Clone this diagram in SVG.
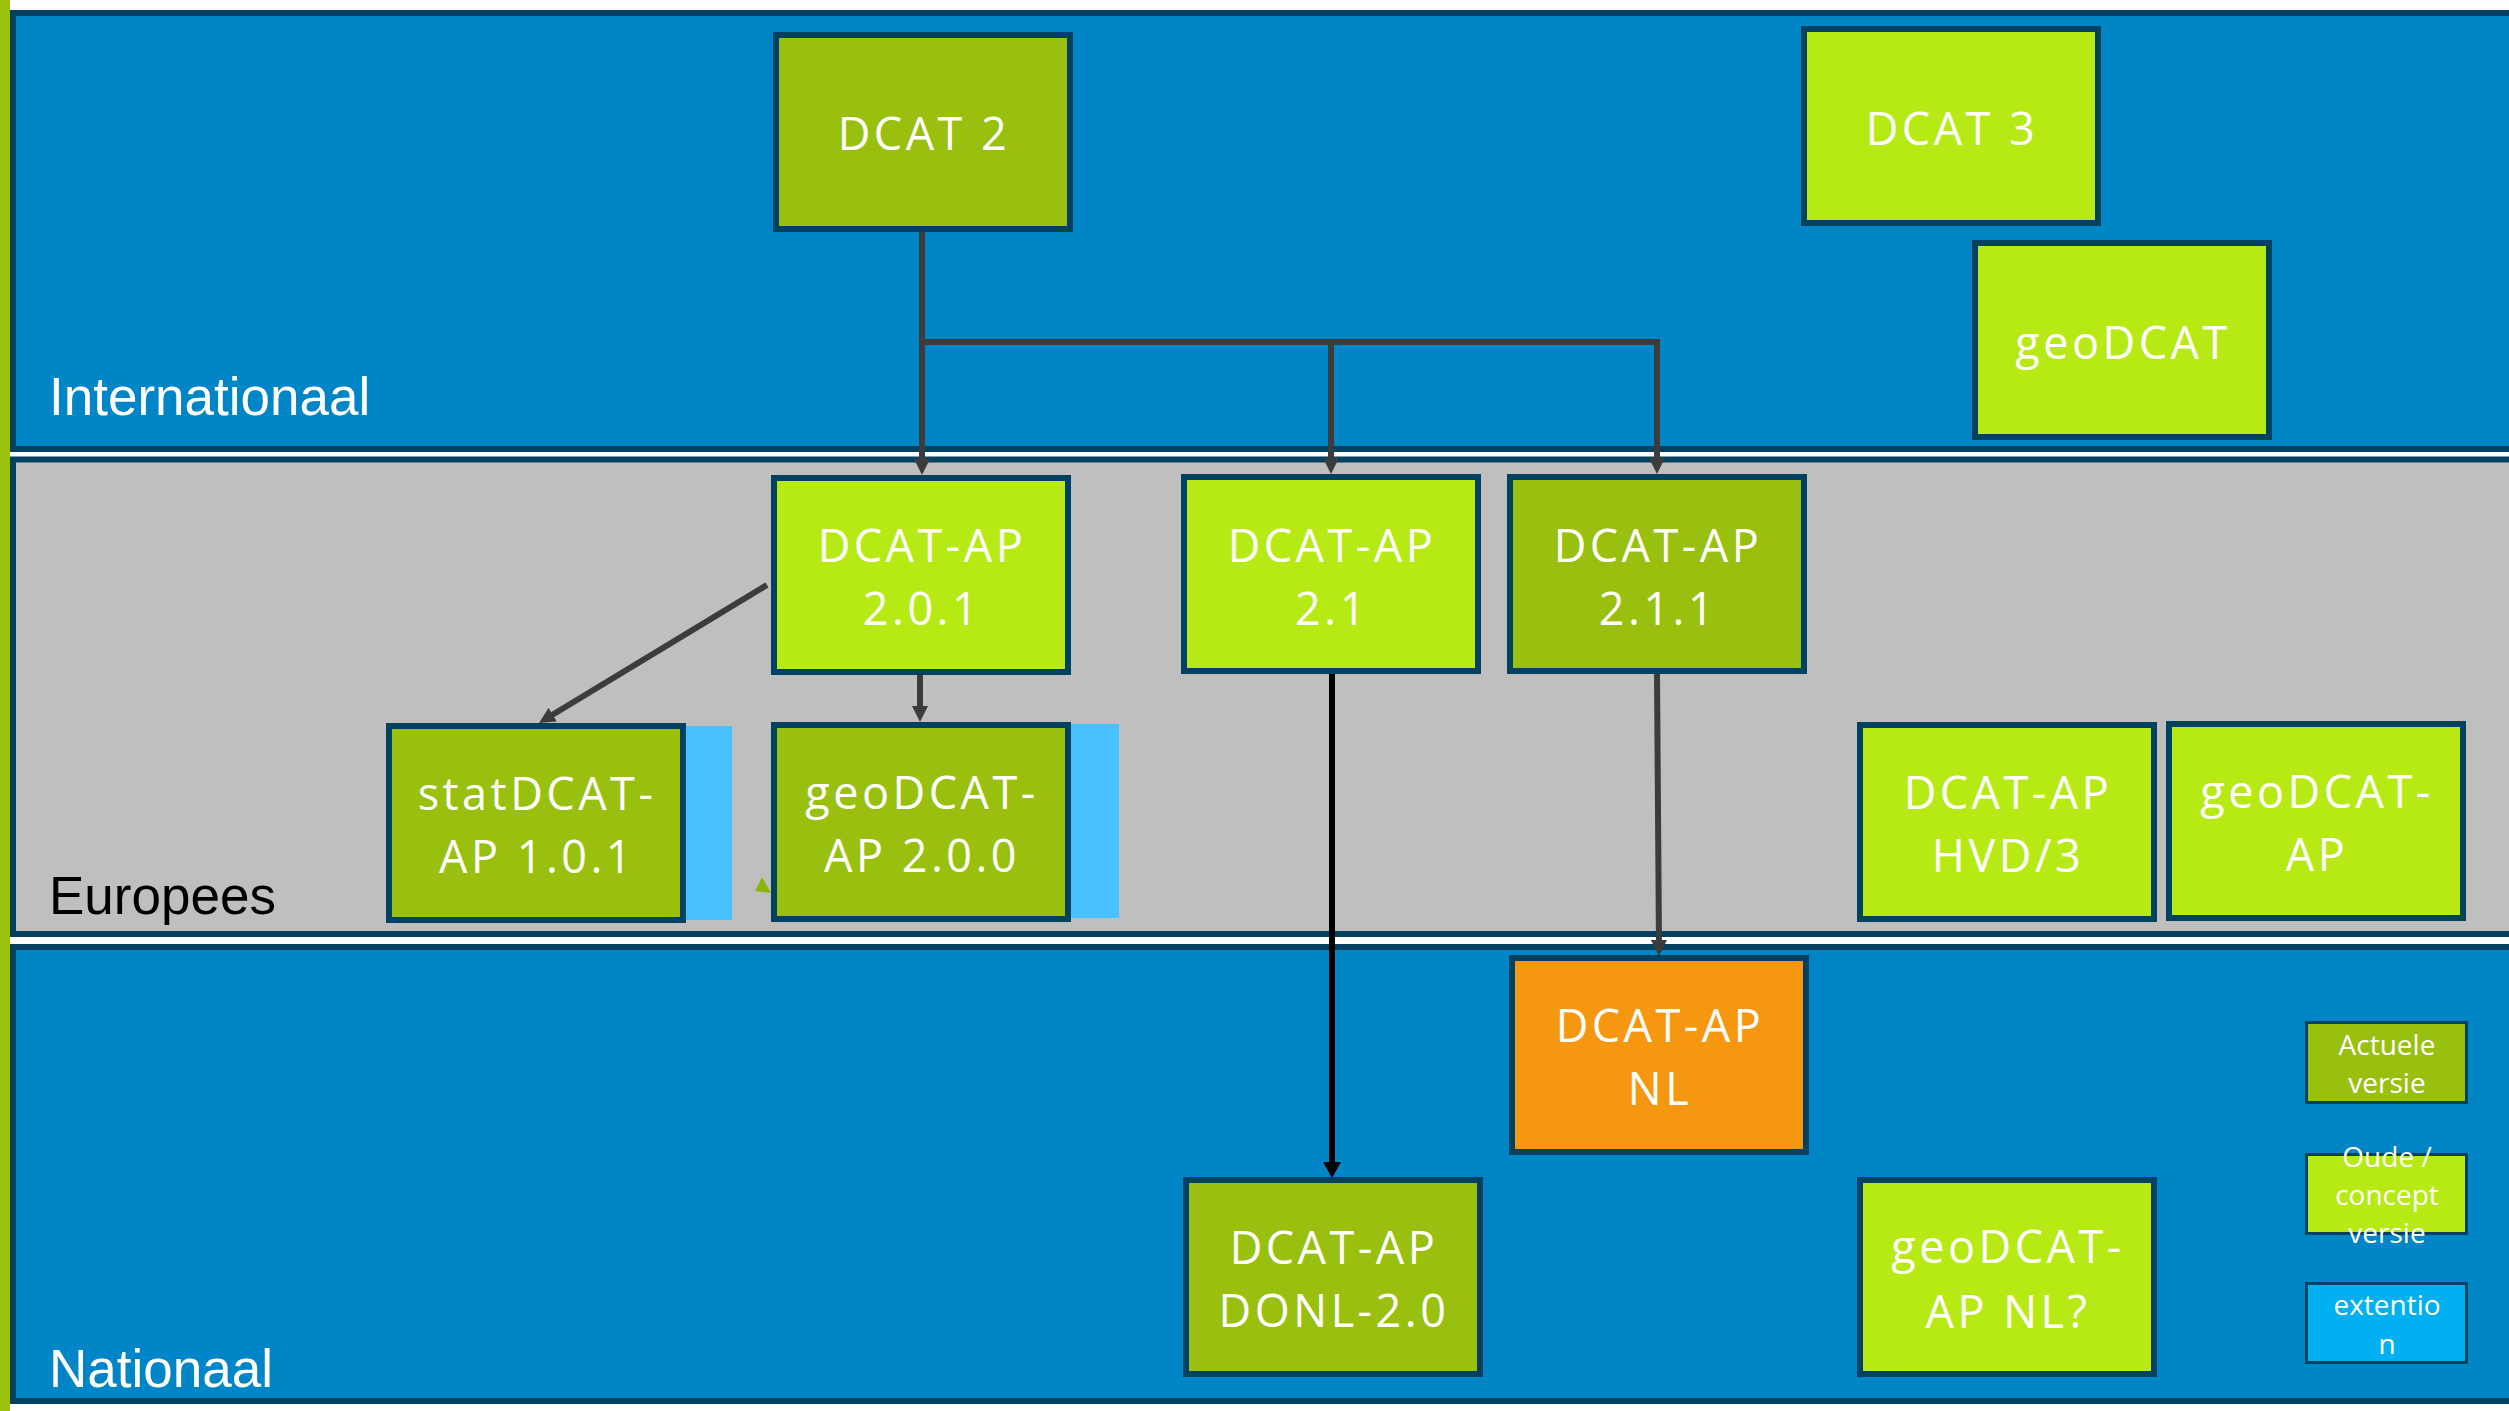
<svg xmlns="http://www.w3.org/2000/svg" width="2509" height="1411" viewBox="0 0 2509 1411">
<style>
.band{stroke:#02415F;stroke-width:6}
.blue{fill:#0085C6}
.gray{fill:#BFBFBF}
.node{stroke:#02415F;stroke-width:6}
.dk{fill:#99C00E}
.lt{fill:#B7EA14}
.or{fill:#F5970F}
.ext{fill:#47C1FF}
.t{font-family:"Open Sans","Noto Sans",sans-serif;font-size:45px;font-weight:500;fill:#fff;text-anchor:middle;letter-spacing:3.5px}
.lg{font-family:"Open Sans","Noto Sans",sans-serif;font-size:28px;font-weight:500;fill:#fff;text-anchor:middle}
.lgbox{stroke:#02415F;stroke-width:3}
.lbl{font-family:"Liberation Sans",Arial,sans-serif;font-size:53px}
.c{fill:none;stroke:#3C3C3C;stroke-width:6}
</style>
<defs>
<marker id="ah" viewBox="0 0 16 16" refX="6" refY="8" markerWidth="16" markerHeight="16" markerUnits="userSpaceOnUse" orient="auto">
<path d="M0,0 L16,8 L0,16 z" fill="#3C3C3C"/>
</marker>
<marker id="ahb" viewBox="0 0 16 18" refX="6" refY="9" markerWidth="16" markerHeight="18" markerUnits="userSpaceOnUse" orient="auto">
<path d="M0,0 L16,9 L0,18 z" fill="#000"/>
</marker>
</defs>
<rect x="0" y="0" width="2509" height="1411" fill="#fff"/>
<g id="bands">
<rect x="0" y="0" width="10" height="1411" fill="#9AC10E"/>
<rect class="band blue" x="13" y="13" width="2600" height="436"/>
<rect class="band gray" x="13" y="459.5" width="2600" height="474.5"/>
<rect class="band blue" x="13" y="947" width="2600" height="454"/>
<text class="lbl" x="49" y="415" fill="#fff">Internationaal</text>
<text class="lbl" x="49" y="914" fill="#000">Europees</text>
<text class="lbl" x="49" y="1387" fill="#fff">Nationaal</text>
</g>
<g id="extensions">
<rect class="ext" x="685" y="726" width="47" height="194"/>
<rect class="ext" x="1070" y="724" width="49" height="194"/>
<polygon points="762,877 755,891 771,893" fill="#8CB50A"/>
</g>
<g id="connectors">
<path class="c" d="M922,231 V465" marker-end="url(#ah)"/>
<path class="c" d="M922,342 H1657 V464" marker-end="url(#ah)"/>
<path class="c" d="M1331,342 V464" marker-end="url(#ah)"/>
<path class="c" d="M767,585 L547.6,717.8" marker-end="url(#ah)"/>
<path class="c" d="M920,673 V712" marker-end="url(#ah)"/>
<path d="M1332,674 V1168" fill="none" stroke="#000" stroke-width="6" marker-end="url(#ahb)"/>
<path class="c" d="M1657,674 L1659,946" marker-end="url(#ah)"/>
</g>
<g id="n-dcat2"><rect class="node dk" x="776" y="35" width="294" height="194"/><text class="t" x="924" y="150">DCAT 2</text></g>
<g id="n-dcat3"><rect class="node lt" x="1804" y="29" width="294" height="194"/><text class="t" x="1952" y="145">DCAT 3</text></g>
<g id="n-geodcat"><rect class="node lt" x="1975" y="243" width="294" height="194"/><text class="t" x="2123" y="359">geoDCAT</text></g>
<g id="n-dcatap201"><rect class="node lt" x="774" y="478" width="294" height="194"/><text class="t" x="922" y="562">DCAT-AP</text><text class="t" x="922" y="625">2.0.1</text></g>
<g id="n-dcatap21"><rect class="node lt" x="1184" y="477" width="294" height="194"/><text class="t" x="1332" y="562">DCAT-AP</text><text class="t" x="1332" y="625">2.1</text></g>
<g id="n-dcatap211"><rect class="node dk" x="1510" y="477" width="294" height="194"/><text class="t" x="1658" y="562">DCAT-AP</text><text class="t" x="1658" y="625">2.1.1</text></g>
<g id="n-statdcat"><rect class="node dk" x="389" y="726" width="294" height="194"/><text class="t" x="537" y="810">statDCAT-</text><text class="t" x="537" y="873">AP 1.0.1</text></g>
<g id="n-geodcatap200"><rect class="node dk" x="774" y="725" width="294" height="194"/><text class="t" x="922" y="809">geoDCAT-</text><text class="t" x="922" y="872">AP 2.0.0</text></g>
<g id="n-hvd"><rect class="node lt" x="1860" y="725" width="294" height="194"/><text class="t" x="2008" y="809">DCAT-AP</text><text class="t" x="2008" y="872">HVD/3</text></g>
<g id="n-geodcatap"><rect class="node lt" x="2169" y="724" width="294" height="194"/><text class="t" x="2317" y="808">geoDCAT-</text><text class="t" x="2317" y="871">AP</text></g>
<g id="n-dcatapnl"><rect class="node or" x="1512" y="958" width="294" height="194"/><text class="t" x="1660" y="1042">DCAT-AP</text><text class="t" x="1660" y="1105">NL</text></g>
<g id="n-donl"><rect class="node dk" x="1186" y="1180" width="294" height="194"/><text class="t" x="1334" y="1264">DCAT-AP</text><text class="t" x="1334" y="1327">DONL-2.0</text></g>
<g id="n-geonl"><rect class="node lt" x="1860" y="1180" width="294" height="194"/><text class="t" x="2008" y="1263">geoDCAT-</text><text class="t" x="2008" y="1328">AP NL?</text></g>
<g id="legend">
<g id="lg-actueel"><rect class="lgbox dk" x="2306.5" y="1022.5" width="160" height="80"/><text class="lg" x="2387" y="1055">Actuele</text><text class="lg" x="2387" y="1093">versie</text></g>
<g id="lg-oud"><rect class="lgbox lt" x="2306.5" y="1154.5" width="160" height="79"/><text class="lg" x="2387" y="1167">Oude /</text><text class="lg" x="2387" y="1205">concept</text><text class="lg" x="2387" y="1243">versie</text></g>
<g id="lg-ext"><rect class="lgbox" fill="#00B0F0" x="2306.5" y="1283.5" width="160" height="79"/><text class="lg" x="2387" y="1315">extentio</text><text class="lg" x="2387" y="1354">n</text></g>
</g>
</svg>
